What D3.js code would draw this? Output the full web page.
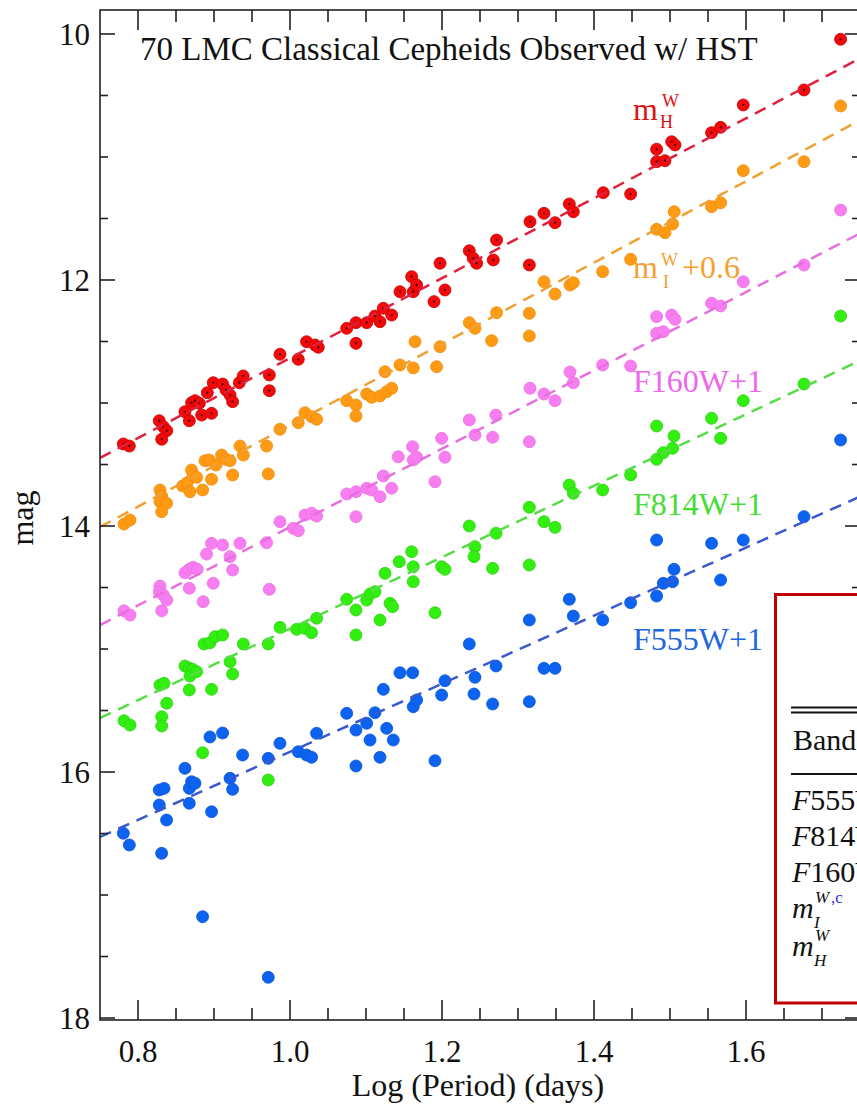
<!DOCTYPE html>
<html><head><meta charset="utf-8">
<script src="https://cdn.jsdelivr.net/npm/d3@7"></script>
<style>body{margin:0;background:#fff}svg{display:block}</style>
</head><body>
<svg id="chart" width="857" height="1104"></svg>
<script>
// ---------- data ----------
const mHLogP = [0.7807,0.7886,0.828,0.8333,0.8378,0.8312,0.8618,0.8675,0.8705,0.875,0.8807,0.8838,0.8912,0.8968,0.899,0.9113,0.9158,0.9211,0.9245,0.9333,0.9384,0.9728,0.9728,0.9868,1.0109,1.0218,1.0329,1.0372,1.0746,1.0868,1.0868,1.1009,1.1118,1.1184,1.1228,1.1338,1.1447,1.1601,1.1622,1.1666,1.1895,1.1974,1.2039,1.2359,1.2411,1.2455,1.2675,1.2718,1.3149,1.3158,1.3342,1.3487,1.3675,1.3728,1.4122,1.4482,1.4824,1.4824,1.4934,1.5022,1.5066,1.5547,1.5666,1.5964,1.6763,1.7245];
const mHMag  = [13.333,13.350,13.144,13.193,13.225,13.295,13.071,13.144,12.998,12.981,13.002,13.098,12.916,13.084,12.835,12.846,12.894,12.935,12.989,12.835,12.780,12.772,12.900,12.604,12.645,12.502,12.528,12.547,12.393,12.347,12.515,12.347,12.293,12.339,12.230,12.285,12.095,11.973,12.095,12.041,12.176,11.864,12.081,11.762,11.824,11.864,11.837,11.675,11.878,11.526,11.458,11.534,11.382,11.445,11.290,11.301,10.937,11.038,11.030,10.876,10.902,10.802,10.759,10.577,10.455,10.043];

const mILogP = [0.7816,0.7895,0.8289,0.8311,0.8289,0.8376,0.8311,0.8587,0.8647,0.8705,0.8726,0.8684,0.8771,0.885,0.8882,0.8937,0.8968,0.9026,0.91,0.9158,0.9211,0.9245,0.9342,0.9386,0.9692,0.9714,0.9868,1.0109,1.0197,1.0284,1.035,1.0746,1.0868,1.0868,1.1009,1.1074,1.1184,1.1272,1.1338,1.125,1.1447,1.1622,1.1645,1.1974,1.1929,1.2359,1.2434,1.2653,1.2718,1.3149,1.3149,1.3342,1.3487,1.3684,1.3728,1.4114,1.4482,1.4824,1.4934,1.5034,1.5055,1.5547,1.5666,1.5964,1.6763,1.7245];
const mIMag  = [13.984,13.951,13.707,13.756,13.802,13.815,13.884,13.675,13.648,13.545,13.593,13.721,13.604,13.707,13.469,13.463,13.620,13.504,13.423,13.458,13.469,13.585,13.350,13.423,13.350,13.577,13.214,13.160,13.079,13.111,13.133,12.981,13.016,13.106,12.927,12.954,12.943,12.908,12.880,12.746,12.691,12.715,12.502,12.542,12.705,12.347,12.393,12.493,12.266,12.271,12.455,12.014,12.114,12.041,12.022,11.932,11.832,11.588,11.615,11.545,11.445,11.404,11.372,11.111,11.038,10.585];

const f160LogP = [0.7816,0.7895,0.8289,0.828,0.8333,0.8378,0.8312,0.8618,0.8675,0.8726,0.8779,0.8675,0.8858,0.8903,0.8968,0.899,0.9113,0.9211,0.9245,0.9342,0.9692,0.9728,0.9868,1.0043,1.0109,1.0197,1.0284,1.035,1.0746,1.0868,1.0868,1.1009,1.1074,1.1184,1.1228,1.1338,1.1424,1.1613,1.1622,1.1666,1.1908,1.1995,1.2039,1.2359,1.2434,1.2666,1.2709,1.3149,1.3158,1.3342,1.3487,1.3684,1.3728,1.4114,1.4482,1.4824,1.4912,1.4824,1.5022,1.5066,1.5547,1.5666,1.5964,1.6763,1.7245];
const f160Mag  = [14.689,14.724,14.488,14.534,14.561,14.602,14.689,14.380,14.352,14.336,14.352,14.506,14.615,14.228,14.141,14.466,14.154,14.249,14.358,14.141,14.136,14.515,13.965,14.019,14.038,13.911,13.897,13.919,13.740,13.721,13.924,13.693,13.707,13.762,13.593,13.693,13.437,13.355,13.463,13.441,13.640,13.287,13.441,13.138,13.260,13.279,13.098,13.315,12.880,12.927,12.981,12.748,12.835,12.691,12.699,12.433,12.420,12.298,12.285,12.320,12.189,12.211,12.014,11.878,11.431];

const f814LogP = [0.7816,0.7895,0.8289,0.8342,0.8378,0.8312,0.8312,0.8618,0.8675,0.8718,0.8684,0.8771,0.8675,0.8868,0.8947,0.9013,0.9113,0.8968,0.9211,0.9245,0.9386,0.9714,0.9868,1.0087,1.0197,1.0284,1.035,1.0746,1.0868,1.0868,1.1009,1.1053,1.1118,1.1184,1.125,1.1316,1.135,1.1437,1.1601,1.1622,1.1622,1.1908,1.1995,1.2039,1.2359,1.2434,1.2421,1.2711,1.2666,1.3149,1.3149,1.3342,1.3487,1.3675,1.3728,1.4114,1.4482,1.4824,1.4824,1.4912,1.5034,1.5053,1.5547,1.5666,1.5964,1.6763,1.7245,0.885,0.9714];
const f814Mag  = [15.583,15.618,15.293,15.279,15.441,15.550,15.626,15.138,15.157,15.165,15.220,15.184,15.333,14.959,14.949,14.900,14.886,15.328,15.103,15.203,14.959,14.959,14.824,14.840,14.832,14.867,14.750,14.596,14.683,14.886,14.602,14.553,14.534,14.764,14.385,14.628,14.656,14.290,14.209,14.331,14.453,14.705,14.331,14.352,14.000,14.168,14.249,14.059,14.344,13.848,14.317,13.965,14.011,13.667,13.734,13.707,13.585,13.187,13.458,13.404,13.368,13.268,13.124,13.287,12.981,12.846,12.293,15.843,16.065];

const f555LogP = [0.7807,0.7886,0.828,0.8342,0.828,0.8376,0.8311,0.8618,0.8675,0.8705,0.875,0.8675,0.885,0.8947,0.8968,0.9113,0.9211,0.9245,0.9376,0.9714,0.9714,0.9868,1.0109,1.0218,1.0284,1.035,1.0746,1.0868,1.0868,1.1009,1.1118,1.1053,1.1184,1.1228,1.1272,1.1359,1.1447,1.1614,1.1622,1.1666,1.1908,1.1995,1.2039,1.2359,1.2434,1.2421,1.2666,1.2711,1.3149,1.3149,1.3342,1.3487,1.3675,1.3728,1.4114,1.4482,1.4824,1.4824,1.4912,1.5034,1.5053,1.5547,1.5666,1.5964,1.6763,1.7245];
const f555Mag  = [16.498,16.593,16.146,16.133,16.268,16.390,16.661,15.970,16.133,16.079,16.092,16.254,17.176,15.715,16.323,15.683,16.051,16.141,15.862,15.889,17.669,15.767,15.835,15.862,15.880,15.685,15.523,15.951,15.659,15.604,15.518,15.740,15.880,15.328,15.645,15.740,15.193,15.193,15.469,15.415,15.908,15.374,15.258,14.959,15.230,15.366,15.447,15.138,14.764,15.428,15.157,15.157,14.596,14.732,14.764,14.623,14.114,14.569,14.466,14.453,14.352,14.141,14.439,14.114,13.924,13.301];

// PL fit lines: slope and zero point at log P = 1
const fitSlope = [-3.249, -3.306, -3.184, -2.906, -2.767];
const fitZP    = [12.635, 13.181, 14.009, 14.835, 15.836];
const seriesNames = ["mH", "mI", "F160W", "F814W", "F555W"];

const xTicksMajor = [0.8, 1.0, 1.2, 1.4, 1.6];
const yTicksMajor = [10, 12, 14, 16, 18];
const titleText = "70 LMC Classical Cepheids Observed w/ HST";
const tableRows = ["F555W", "F814W", "F160W"];

// ---------- drawing ----------
const svg = d3.select("#chart");
const L = 100, R = 860, T = 10, B = 1020;
const x = d3.scaleLinear().domain([0.75, 1.75]).range([L, R]);
const y = d3.scaleLinear().domain([9.805, 18.016]).range([T, B]);
const serif = "'Liberation Serif','Times New Roman',serif";

svg.append("rect").attr("width", 857).attr("height", 1104).attr("fill", "#fff");
svg.append("defs").append("clipPath").attr("id", "clip")
  .append("rect").attr("x", L).attr("y", T).attr("width", R - L).attr("height", B - T);

const series = [
  {lp: f555LogP, m: f555Mag, fill: "#0c63f0", stroke: "#0a55d8", line: "#3a58d0"},
  {lp: f814LogP, m: f814Mag, fill: "#33ee11", stroke: "#2ad40c", line: "#55dd44"},
  {lp: f160LogP, m: f160Mag, fill: "#f77ef0", stroke: "#ee6ee6", line: "#e86ee0"},
  {lp: mILogP,  m: mIMag,  fill: "#ff9a14", stroke: "#f08a08", line: "#f0a030"},
  {lp: mHLogP,  m: mHMag,  fill: "#f20a0a", stroke: "#c80000", line: "#e0203c", center: true}
];
const lineIdx = [4, 3, 2, 1, 0]; // series -> fit index

const plot = svg.append("g").attr("clip-path", "url(#clip)");
series.forEach((s, i) => {
  const pts = s.lp.map((v, k) => [v, s.m[k]]);
  const g = plot.append("g");
  g.selectAll("circle").data(pts).enter().append("circle")
    .attr("cx", d => x(d[0])).attr("cy", d => y(d[1])).attr("r", 6)
    .attr("fill", s.fill).attr("stroke", s.stroke).attr("stroke-width", 0.8);
  if (s.center) {
    g.selectAll("circle.c").data(pts).enter().append("circle").attr("class", "c")
      .attr("cx", d => x(d[0])).attr("cy", d => y(d[1])).attr("r", 1.1).attr("fill", "#3a0000");
  }
});
series.forEach((s, i) => {
  const fi = lineIdx[i];
  const xd = x.domain();
  const lineData = xd.map(v => [v, fitZP[fi] + fitSlope[fi] * (v - 1)]);
  plot.append("path").datum(lineData)
    .attr("d", d3.line().x(d => x(d[0])).y(d => y(d[1])))
    .attr("fill", "none").attr("stroke", s.line).attr("stroke-width", 2.5)
    .attr("stroke-dasharray", "12,8");
});

// frame
const axisColor = "#222";
svg.append("rect").attr("x", L).attr("y", T).attr("width", R - L).attr("height", B - T)
  .attr("fill", "none").attr("stroke", axisColor).attr("stroke-width", 1.6);

const xMinor = d3.range(0.75, 1.7501, 0.05).map(v => +v.toFixed(2));
const yMinor = d3.range(10, 18.001, 0.5);
const isMajX = v => Math.abs(v * 5 - Math.round(v * 5)) < 1e-6;
const isMajY = v => Math.abs(v / 2 - Math.round(v / 2)) < 1e-6;
const tk = svg.append("g").attr("stroke", axisColor).attr("stroke-width", 1.6);
xMinor.filter(v => v > 0.76 && v < 1.749).forEach(v => {
  const len = isMajX(v) ? 20 : 12;
  tk.append("line").attr("x1", x(v)).attr("x2", x(v)).attr("y1", B).attr("y2", B - len);
  tk.append("line").attr("x1", x(v)).attr("x2", x(v)).attr("y1", T).attr("y2", T + len);
});
yMinor.forEach(v => {
  const len = isMajY(v) ? 15 : 8;
  tk.append("line").attr("x1", L).attr("x2", L + len).attr("y1", y(v)).attr("y2", y(v));
  tk.append("line").attr("x1", R).attr("x2", R - len).attr("y1", y(v)).attr("y2", y(v));
});

// tick labels
svg.append("g").selectAll("text").data(xTicksMajor).enter().append("text")
  .attr("x", d => x(d)).attr("y", 1062).attr("text-anchor", "middle")
  .attr("font-family", serif).attr("font-size", 31).attr("fill", "#111")
  .text(d => d.toFixed(1));
svg.append("g").selectAll("text").data(yTicksMajor).enter().append("text")
  .attr("x", 90).attr("y", d => y(d) + 11).attr("text-anchor", "end")
  .attr("font-family", serif).attr("font-size", 31).attr("fill", "#111")
  .text(d => d);

// axis titles
svg.append("text").attr("x", 478).attr("y", 1096).attr("text-anchor", "middle")
  .attr("font-family", serif).attr("font-size", 32).attr("fill", "#111")
  .text("Log (Period) (days)");
svg.append("text").attr("transform", "translate(33,518) rotate(-90)").attr("text-anchor", "middle")
  .attr("font-family", serif).attr("font-size", 32).attr("fill", "#111").text("mag");

// title
svg.append("text").attr("x", 140).attr("y", 60).attr("font-family", serif)
  .attr("font-size", 33).attr("fill", "#111").text(titleText);

// series labels
function lab(tx, ty, txt, color, size) {
  return svg.append("text").attr("x", tx).attr("y", ty).attr("font-family", serif)
    .attr("font-size", size || 32).attr("fill", color).text(txt);
}
lab(633, 120, "m", "#dd1111");
lab(662, 107, "W", "#dd1111", 18);
lab(660, 128, "H", "#dd1111", 18);
lab(633, 278, "m", "#f5a030");
lab(661, 266, "W", "#f5a030", 18);
lab(663, 288, "I", "#f5a030", 18);
lab(682, 278, "+0.6", "#f5a030");
lab(633, 392, "F160W+1", "#ee66ee");
lab(633, 515, "F814W+1", "#44dd33");
lab(633, 650, "F555W+1", "#2266dd");

// table box (cut off at the right edge)
svg.append("rect").attr("x", 775.5).attr("y", 594.5).attr("width", 260).attr("height", 408.5)
  .attr("fill", "#fff").attr("stroke", "#c00000").attr("stroke-width", 3);
const tl = svg.append("g").attr("stroke", "#111").attr("stroke-width", 2);
[707.5, 712.5, 774].forEach(v => tl.append("line").attr("x1", 791).attr("x2", 1030).attr("y1", v).attr("y2", v));
const tt = svg.append("g").attr("font-family", serif).attr("font-size", 30).attr("fill", "#111");
tt.append("text").attr("x", 793).attr("y", 750).text("Band");
tableRows.forEach((r, i) => {
  const t = tt.append("text").attr("x", 792).attr("y", 810 + i * 36);
  t.append("tspan").attr("font-style", "italic").text(r[0]);
  t.append("tspan").text(r.slice(1));
});
const r4 = tt.append("g");
r4.append("text").attr("x", 792).attr("y", 918).attr("font-style", "italic").text("m");
r4.append("text").attr("x", 815).attr("y", 903).attr("font-style", "italic").attr("font-size", 17).text("W");
r4.append("text").attr("x", 831).attr("y", 903).attr("font-size", 17).attr("fill", "#3333cc").text(",c");
r4.append("text").attr("x", 814).attr("y", 928).attr("font-style", "italic").attr("font-size", 17).text("I");
r4.append("text").attr("x", 792).attr("y", 956).attr("font-style", "italic").text("m");
r4.append("text").attr("x", 815).attr("y", 941).attr("font-style", "italic").attr("font-size", 17).text("W");
r4.append("text").attr("x", 814).attr("y", 966).attr("font-style", "italic").attr("font-size", 17).text("H");
</script>
</body></html>
